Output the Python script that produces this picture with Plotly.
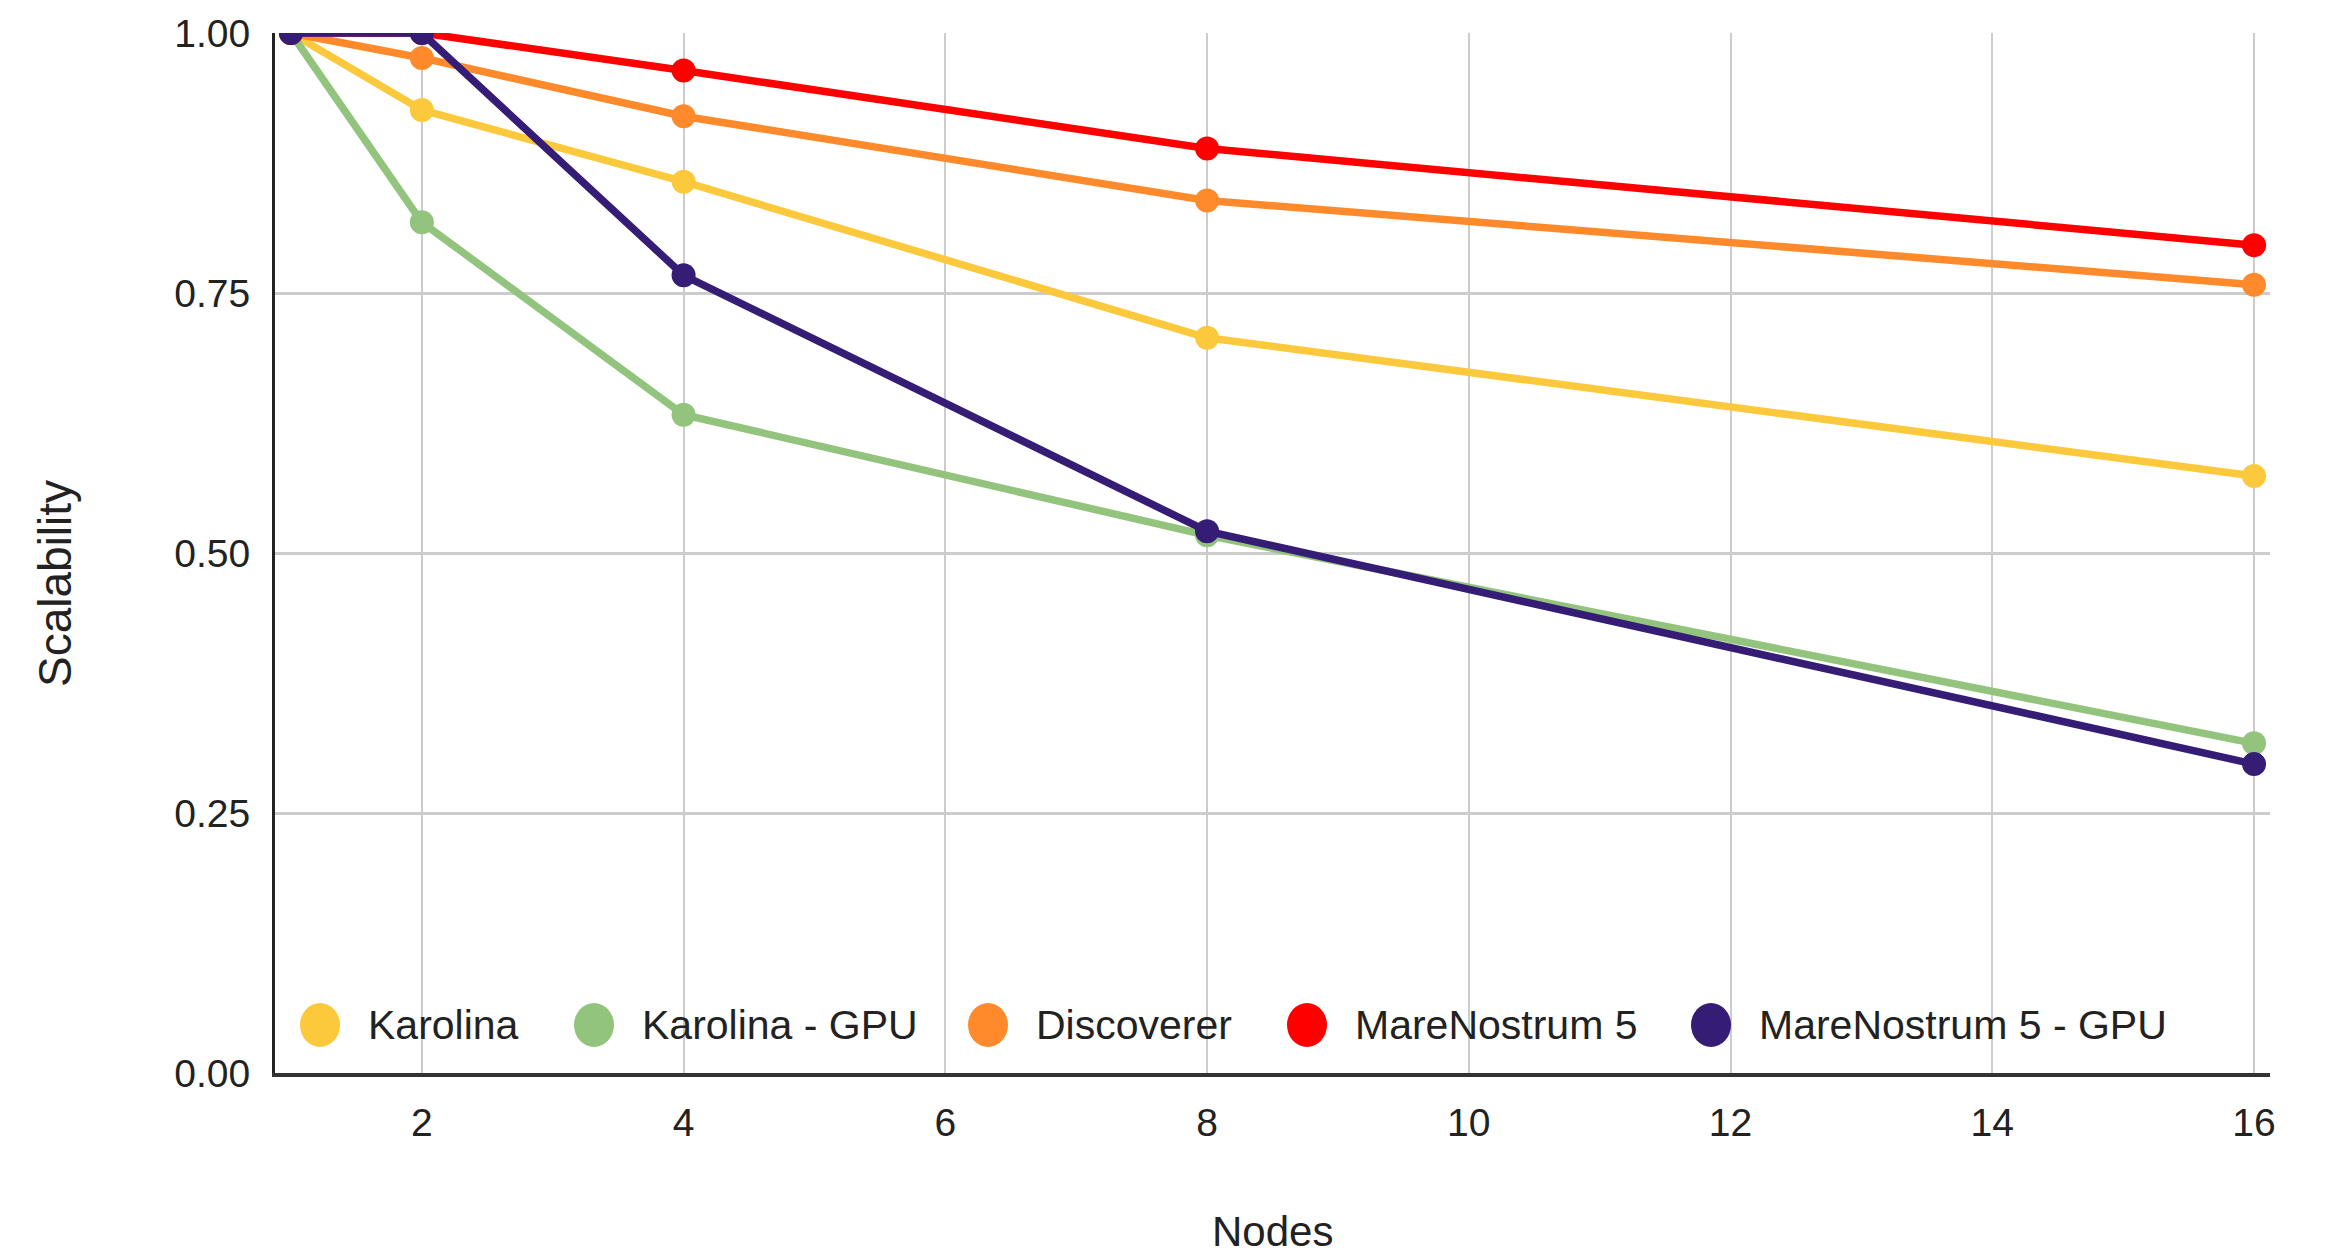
import plotly.graph_objects as go

# ---- data ----
nodes = [1, 2, 4, 8, 16]
series_names = ["Karolina", "Karolina - GPU", "Discoverer", "MareNostrum 5", "MareNostrum 5 - GPU"]
karolina = [1.0, 0.926, 0.857, 0.707, 0.574]
karolina_gpu = [1.0, 0.818, 0.633, 0.517, 0.317]
discoverer = [1.0, 0.976, 0.920, 0.839, 0.758]
marenostrum5 = [1.0, 1.0, 0.964, 0.889, 0.796]
marenostrum5_gpu = [1.0, 1.0, 0.767, 0.521, 0.297]
y_ticks = [0.0, 0.25, 0.5, 0.75, 1.0]
x_title = "Nodes"
y_title = "Scalability"

series_values = [karolina, karolina_gpu, discoverer, marenostrum5, marenostrum5_gpu]
colors = ["#FCC93C", "#93C47D", "#FF8A2B", "#FF0000", "#351C75"]

W, H = 2337, 1260
OFF = 8  # page body margin
L, R, T, B = 275, 2270, 33, 1073  # plot area in page pixels
FONT = "Liberation Sans, Arial, sans-serif"

fig = go.Figure()
for name, vals, col in zip(series_names, series_values, colors):
    fig.add_trace(go.Scatter(
        x=nodes, y=vals, name=name, mode="lines+markers",
        line=dict(color=col, width=7.5),
        marker=dict(color=col, size=24),
        showlegend=False,
    ))

def px_to_paper_x(px):
    return (px - L) / (R - L)

def px_to_paper_y(py):
    return (B - py) / (B - T)

# custom legend (large circular symbols as in reference)
legend_marker_px = [320, 594, 988, 1307, 1711]
legend_y = px_to_paper_y(1025)
shapes = []
annotations = []
for name, col, mx in zip(series_names, colors, legend_marker_px):
    shapes.append(dict(
        type="circle", xref="paper", yref="paper",
        xsizemode="pixel", ysizemode="pixel",
        xanchor=px_to_paper_x(mx), yanchor=legend_y,
        x0=-20, x1=20, y0=-22, y1=22,
        fillcolor=col, line=dict(width=0), layer="above",
    ))
    annotations.append(dict(
        text=name, xref="paper", yref="paper",
        x=px_to_paper_x(mx + 46), y=legend_y,
        xanchor="left", yanchor="middle", showarrow=False,
        font=dict(family=FONT, size=41, color="#222222"),
    ))

annotations.append(dict(
    text=x_title, xref="paper", yref="paper",
    x=0.5, y=px_to_paper_y(1231), xanchor="center", yanchor="middle",
    showarrow=False, font=dict(family=FONT, size=42, color="#222222"),
))
annotations.append(dict(
    text=y_title, xref="paper", yref="paper",
    x=px_to_paper_x(55), y=px_to_paper_y(584), xanchor="center", yanchor="middle",
    textangle=-90, showarrow=False, font=dict(family=FONT, size=46, color="#222222"),
))

fw, fh = W - OFF, H - OFF
fig.update_layout(
    width=fw, height=fh,
    margin=dict(l=L - OFF, r=fw - (R - OFF), t=T - OFF, b=fh - (B - OFF), pad=0),
    paper_bgcolor="white", plot_bgcolor="white",
    font=dict(family=FONT, size=38, color="#222222"),
    shapes=shapes, annotations=annotations,
    showlegend=False,
    xaxis=dict(
        range=[0.878, 16.122], tick0=0, dtick=2, automargin=False,
        showgrid=True, gridcolor="#CCCCCC", gridwidth=2,
        showline=True, linecolor="#333333", linewidth=4,
        zeroline=False, ticks="", ticklabelstandoff=12,
        tickfont=dict(family=FONT, size=39, color="#222222"),
    ),
    yaxis=dict(
        range=[0, 1], tickvals=y_ticks, tickformat=".2f", automargin=False,
        showgrid=True, gridcolor="#CCCCCC", gridwidth=3,
        showline=True, linecolor="#222222", linewidth=3,
        zeroline=False, ticks="", ticklabelstandoff=14,
        tickfont=dict(family=FONT, size=39, color="#222222"),
    ),
)

fig.write_html("out.html")
